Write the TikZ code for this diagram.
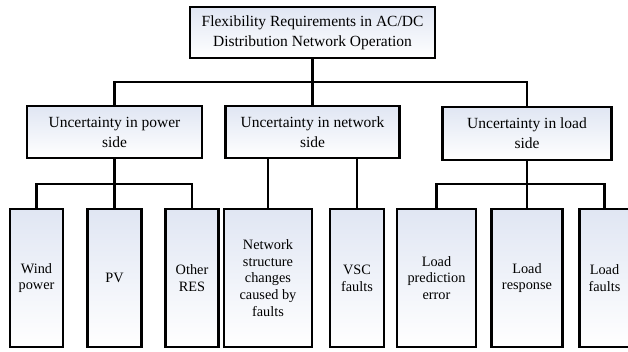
\documentclass[tikz,border=0pt]{standalone}
\usepackage{fontspec}
\setmainfont{Liberation Serif}
\definecolor{boxtop}{RGB}{224,230,243}
\begin{document}
\begin{tikzpicture}[x=1pt,y=-1pt,
  box/.style={draw=black, line width=2.8pt, top color=boxtop, bottom color=white, inner sep=2pt, align=center},
  lvone/.style={box, font=\fontsize{15.5}{20}\selectfont},
  lvtwo/.style={box, font=\fontsize{14.3}{16.7}\selectfont, minimum height=138pt},
  conn/.style={line width=2.5pt}]
\useasboundingbox (0,0) rectangle (628,351);
\begin{scope}
\clip (0,0) rectangle (628,351);
% top
\node[lvone, minimum width=245pt, minimum height=51pt] (top) at (312.5,32.5) {Flexibility Requirements in AC/DC\\Distribution Network Operation};
% level 2
\node[lvone, minimum width=175pt, minimum height=52pt] (p) at (114.5,132) {Uncertainty in power\\side};
\node[lvone, minimum width=174pt, minimum height=52pt] (n) at (312.5,132) {Uncertainty in network\\side};
\node[lvone, minimum width=169pt, minimum height=53pt] (l) at (527,133.5) {Uncertainty in load\\side};
% level 3
\node[lvtwo, minimum width=53pt] (w1) at (36.5,278) {Wind\\power};
\node[lvtwo, minimum width=54pt] (pv) at (114.5,278) {PV};
\node[lvtwo, minimum width=53pt] (or) at (192,278) {Other\\RES};
\node[lvtwo, minimum width=88pt] (ns) at (268,278) {Network\\structure\\changes\\caused by\\faults};
\node[lvtwo, minimum width=54pt] (vsc) at (357,278) {VSC\\faults};
\node[lvtwo, minimum width=79pt] (lp) at (436.5,278) {Load\\prediction\\error};
\node[lvtwo, minimum width=71pt] (lr) at (527,278) {Load\\response};
\node[lvtwo, minimum width=50pt] (lf) at (604.5,278) {Load\\faults};
% connectors level 1
\coordinate (b1) at (312.5,82);
\draw[conn] (top.south) -- (b1);
\draw[conn] (p.north) |- (b1) -| (l.north);
\draw[conn] (b1) -- (n.north);
% power side
\coordinate (bp) at (114.5,184);
\draw[conn] (p.south) -- (bp);
\draw[conn] (w1.north) |- (bp) -| (or.north);
\draw[conn] (bp) -- (pv.north);
% network side
\draw[conn] (n.south -| ns.north) -- (ns.north);
\draw[conn] (n.south -| vsc.north) -- (vsc.north);
% load side
\coordinate (bl) at (527,184);
\draw[conn] (l.south) -- (bl);
\draw[conn] (lp.north) |- (bl) -| (lf.north);
\draw[conn] (bl) -- (lr.north);
\end{scope}
\end{tikzpicture}
\end{document}
